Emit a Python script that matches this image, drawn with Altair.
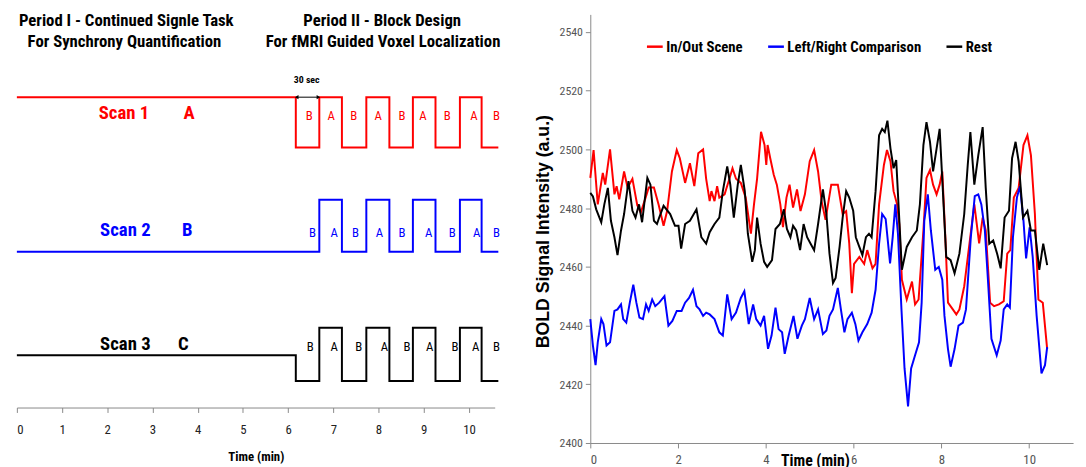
import altair as alt
import pandas as pd

FONT = "Liberation Sans Narrow, Arial Narrow, Roboto Condensed, Liberation Sans, sans-serif"
WIDE_FONT = "Liberation Sans, Arial, sans-serif"

# ---------------- Left panel: task design ----------------
edge_times = [0, 6.17, 6.69, 7.19, 7.73, 8.24, 8.76, 9.26, 9.80, 10.28, 10.65]
scan1_levels = [31.5, 26.4, 31.5, 26.4, 31.5, 26.4, 31.5, 26.4, 31.5, 26.4, 26.4]
scan2_levels = [15.8, 15.8, 21.1, 15.8, 21.1, 15.8, 21.1, 15.8, 21.1, 15.8, 15.8]
scan3_levels = [5.3, 2.7, 8.1, 2.7, 8.1, 2.7, 8.1, 2.7, 8.1, 2.7, 2.7]
scan_colors = ["#FF0000", "#0000FF", "#000000"]

block_text = ["B", "A", "B", "A", "B", "A", "B", "A", "B"]
scan1_text_t = [6.47, 6.95, 7.45, 7.99, 8.52, 8.98, 9.52, 10.11, 10.61]
scan2_text_t = [6.54, 7.02, 7.49, 8.02, 8.52, 9.11, 9.63, 10.17, 10.61]
scan3_text_t = [6.49, 7.02, 7.56, 8.13, 8.63, 9.13, 9.69, 10.15, 10.61]
block_text_levels = [29.6, 17.7, 6.1]

scan_names = ["Scan 1", "Scan 2", "Scan 3"]
scan_letters = ["A", "B", "C"]
scan_name_t = [2.37, 2.40, 2.40]
scan_letter_t = [3.81, 3.77, 3.68]
scan_name_levels = [29.9, 18.0, 6.4]

title_lines = ["Period I - Continued Signle Task", "For Synchrony Quantification",
               "Period II - Block Design", "For fMRI Guided Voxel Localization"]
title_t = [2.42, 2.38, 8.08, 8.10]
title_levels = [39.2, 37.1, 39.2, 37.1]

arrow_t = [6.19, 6.67]
arrow_level = 31.5
arrow_label = "30 sec"
arrow_label_t = 6.41
arrow_label_level = 33.2

left_ticks = list(range(0, 11))

# ---------------- Right panel: BOLD signal ----------------
series_names = ["In/Out Scene", "Left/Right Comparison", "Rest"]
series_colors = ["#FF0000", "#0000FF", "#000000"]

red_t = [0, 0.075, 0.17, 0.285, 0.34, 0.45, 0.55, 0.6, 0.66, 0.77, 0.85, 0.96, 1.07, 1.15, 1.26, 1.33,
         1.45, 1.56, 1.67, 1.75, 1.86, 1.97, 2.04, 2.16, 2.27, 2.37, 2.46, 2.57, 2.64, 2.72, 2.76, 2.83,
         2.89, 2.94, 3.06, 3.17, 3.24, 3.32, 3.43, 3.54, 3.66, 3.73, 3.80, 3.89, 3.97, 4.01, 4.04, 4.10,
         4.18, 4.25, 4.33, 4.39, 4.47, 4.54, 4.62, 4.71, 4.79, 4.89, 5.0, 5.1, 5.19, 5.27, 5.36, 5.49,
         5.64, 5.75, 5.83, 5.90, 5.96, 6.01, 6.13, 6.24, 6.31, 6.43, 6.50, 6.58, 6.69, 6.76, 6.84, 6.91,
         6.99, 7.04, 7.10, 7.21, 7.33, 7.40, 7.48, 7.59, 7.66, 7.74, 7.81, 7.89, 7.96, 8.02, 8.09, 8.15,
         8.26, 8.34, 8.41, 8.52, 8.64, 8.75, 8.86, 8.94, 9.01, 9.11, 9.20, 9.31, 9.42, 9.50, 9.57, 9.65,
         9.76, 9.87, 9.96, 10.04, 10.13, 10.21, 10.31, 10.41]
red_v = [2490.3, 2499.8, 2481.3, 2492, 2488, 2500, 2484.7, 2487.5, 2483, 2492.5, 2487, 2490, 2481, 2478.5,
         2483.6, 2487, 2487, 2481, 2474, 2479, 2492.5, 2499.8, 2497, 2488.6, 2495.3, 2487.5, 2498.7, 2500,
         2490, 2482.4, 2485.8, 2482.4, 2487.5, 2483.6, 2484.7, 2490, 2493.6, 2490, 2488.6, 2483.6, 2471.3,
         2481.3, 2490, 2506, 2501.5, 2494.7, 2501.5, 2497, 2491.4, 2488, 2481.3, 2473.5, 2483.6, 2488,
         2480.2, 2486.4, 2479, 2484.7, 2496, 2499.8, 2492.5, 2482.4, 2476, 2488, 2488, 2478, 2479, 2468,
         2451, 2461, 2463.4, 2461, 2465.7, 2459.5, 2461, 2481.3, 2494.7, 2499.8, 2495.9, 2485.8, 2481.3,
         2474.6, 2455.6, 2448.9, 2455, 2447.2, 2448.9, 2472.4, 2490.3, 2493, 2488, 2484.7, 2488, 2492.5,
         2470, 2447.8, 2445.5, 2443.8, 2445.5, 2453.4, 2468, 2481.3, 2468, 2476.8, 2472.4, 2447.8, 2446.6,
         2447.2, 2448.3, 2464.5, 2465.7, 2483.6, 2486.9, 2501.5, 2504.8, 2498, 2478, 2448.9, 2447.8, 2432]

blue_t = [0, 0.06, 0.12, 0.17, 0.25, 0.30, 0.37, 0.45, 0.55, 0.62, 0.70, 0.75, 0.82, 0.90, 0.98, 1.05,
          1.12, 1.20, 1.27, 1.33, 1.41, 1.48, 1.57, 1.69, 1.78, 1.87, 1.97, 2.08, 2.16, 2.25, 2.34, 2.42,
          2.49, 2.57, 2.64, 2.72, 2.83, 2.94, 3.02, 3.12, 3.22, 3.32, 3.43, 3.51, 3.61, 3.71, 3.78, 3.88,
          3.96, 4.05, 4.13, 4.22, 4.29, 4.37, 4.43, 4.52, 4.63, 4.72, 4.82, 4.89, 5.0, 5.10, 5.19, 5.30,
          5.38, 5.45, 5.53, 5.64, 5.71, 5.79, 5.86, 5.96, 6.04, 6.11, 6.20, 6.31, 6.41, 6.50, 6.58, 6.65,
          6.73, 6.83, 6.89, 6.95, 7.01, 7.09, 7.16, 7.24, 7.31, 7.40, 7.49, 7.55, 7.61, 7.69, 7.76, 7.86,
          7.94, 8.02, 8.07, 8.15, 8.21, 8.30, 8.39, 8.49, 8.56, 8.67, 8.76, 8.84, 8.91, 8.99, 9.06, 9.14,
          9.26, 9.35, 9.42, 9.50, 9.56, 9.63, 9.72, 9.79, 9.87, 9.93, 10.01, 10.08, 10.17, 10.28, 10.36,
          10.41]
blue_v = [2442.2, 2433.2, 2426.5, 2434.3, 2442.2, 2440.5, 2433.2, 2434.3, 2445, 2445.5, 2447.2, 2442.2,
          2441, 2447.8, 2453.9, 2447.8, 2442.7, 2442.2, 2447.2, 2445, 2448.9, 2446.6, 2447.8, 2450, 2440,
          2441.6, 2445, 2445, 2447.8, 2449.4, 2452.2, 2446.6, 2445.5, 2443.3, 2444.4, 2443.8, 2442.2,
          2437.7, 2436.6, 2450.6, 2442.2, 2444.4, 2449.4, 2451.7, 2440.5, 2447.2, 2442.2, 2440, 2443.3,
          2432.1, 2436.6, 2446.1, 2438.8, 2437.7, 2430.4, 2436.6, 2443.3, 2435.5, 2440, 2442.2, 2449.4,
          2442.2, 2445.5, 2437.1, 2438.3, 2443.3, 2445.5, 2452.8, 2445.5, 2437.7, 2442.2, 2444.4, 2440.5,
          2434.9, 2437.7, 2440.5, 2444.4, 2452.2, 2467.9, 2478, 2476.3, 2461.2, 2470.1, 2481.3, 2471.3,
          2445.5, 2425.4, 2412.5, 2425.4, 2429.9, 2434.3, 2447.8, 2475.7, 2484.7, 2472.4, 2459, 2460,
          2455.6, 2443.3, 2432, 2426, 2432, 2440, 2441, 2445.5, 2470.1, 2484.1, 2484.7, 2481.3, 2472.4,
          2455.6, 2435.5, 2429.9, 2434.9, 2445.5, 2447.2, 2446.1, 2470.1, 2483.6, 2487.5, 2475.7, 2462.9,
          2473.5, 2463.4, 2443.3, 2423.7, 2426.5, 2432.7]

rest_t = [0, 0.06, 0.135, 0.25, 0.32, 0.40, 0.47, 0.55, 0.62, 0.70, 0.77, 0.87, 0.96, 1.03, 1.11, 1.18,
          1.30, 1.37, 1.45, 1.52, 1.57, 1.67, 1.82, 1.93, 2.01, 2.07, 2.16, 2.27, 2.42, 2.53, 2.64, 2.72,
          2.83, 2.94, 3.02, 3.12, 3.19, 3.27, 3.36, 3.43, 3.52, 3.59, 3.69, 3.75, 3.80, 3.88, 3.96, 4.03,
          4.14, 4.22, 4.32, 4.41, 4.48, 4.56, 4.62, 4.69, 4.78, 4.86, 4.94, 5.02, 5.10, 5.19, 5.30, 5.38,
          5.45, 5.53, 5.59, 5.68, 5.75, 5.83, 5.90, 5.99, 6.05, 6.13, 6.20, 6.28, 6.35, 6.41, 6.50, 6.58,
          6.65, 6.71, 6.77, 6.84, 6.91, 6.97, 7.03, 7.10, 7.21, 7.33, 7.44, 7.51, 7.59, 7.66, 7.74, 7.81,
          7.89, 7.96, 8.03, 8.11, 8.21, 8.30, 8.41, 8.52, 8.60, 8.66, 8.75, 8.84, 8.94, 9.01, 9.09, 9.18,
          9.27, 9.35, 9.44, 9.54, 9.61, 9.69, 9.76, 9.86, 9.96, 10.04, 10.13, 10.23, 10.32, 10.41]
rest_v = [2485.2, 2484, 2479.6, 2475.2, 2481.3, 2486.9, 2475.7, 2470.1, 2464, 2472.4, 2478, 2489.2, 2479.1,
          2476.8, 2481.3, 2475.2, 2490.3, 2488, 2475.7, 2474.6, 2476.8, 2480.8, 2478, 2474, 2474, 2466.2,
          2474.6, 2475.7, 2479.6, 2470.1, 2467.9, 2471.8, 2474.6, 2476.8, 2485.8, 2494.2, 2488, 2476.8,
          2488, 2494.7, 2485.8, 2471.3, 2461.7, 2465.7, 2476.8, 2467.9, 2461.7, 2460, 2462.3, 2472.9,
          2474.6, 2479.6, 2472.9, 2470.1, 2474, 2472.4, 2465.7, 2474.6, 2470.1, 2467.9, 2465.7, 2474.6,
          2486.4, 2478, 2464.5, 2454.5, 2456.2, 2466.8, 2476.8, 2485.8, 2483.6, 2479.1, 2470.1, 2466.8,
          2464, 2470.1, 2471.3, 2470.1, 2485.8, 2504.8, 2507, 2505.9, 2509.8, 2500.3, 2493.6, 2496.4,
          2479.1, 2459, 2466.8, 2470.1, 2472.4, 2481.3, 2501.5, 2509.3, 2502.6, 2492.5, 2500.3, 2507,
          2486.9, 2463.4, 2462.3, 2457.8, 2464.5, 2478, 2494.7, 2505.9, 2488, 2498, 2507.6, 2486.9, 2467.9,
          2469, 2464.5, 2459.5, 2476.8, 2479.1, 2497, 2502.6, 2495.9, 2476.8, 2479.1, 2472.4, 2472.4, 2459,
          2467.9, 2460.6]

right_y_ticks = [2400, 2420, 2440, 2460, 2480, 2500, 2520, 2540]
right_x_ticks = [0, 2, 4, 6, 8, 10]

# ---------------- build tables ----------------
steps = []
for name, levels, col in zip(scan_names, [scan1_levels, scan2_levels, scan3_levels], scan_colors):
    for t, lv in zip(edge_times, levels):
        steps.append({"scan": name, "t": t, "lv": lv, "color": col})
steps_df = pd.DataFrame(steps)

blocks = []
for ts, lv, col in zip([scan1_text_t, scan2_text_t, scan3_text_t], block_text_levels, scan_colors):
    for t, s in zip(ts, block_text):
        blocks.append({"t": t, "lv": lv, "text": s, "color": col})
blocks_df = pd.DataFrame(blocks)

names = []
for i in range(3):
    names.append({"t": scan_name_t[i], "lv": scan_name_levels[i], "text": scan_names[i], "color": scan_colors[i]})
    names.append({"t": scan_letter_t[i], "lv": scan_name_levels[i], "text": scan_letters[i], "color": scan_colors[i]})
names_df = pd.DataFrame(names)

titles_df = pd.DataFrame({"t": title_t, "lv": title_levels, "text": title_lines})
arrow_df = pd.DataFrame({"t": [arrow_t[0]], "t2": [arrow_t[1]], "lv": [arrow_level]})
arrow_heads_df = pd.DataFrame({"t": arrow_t, "lv": [arrow_level] * 2,
                               "shape": ["triangle-left", "triangle-right"]})
arrow_text_df = pd.DataFrame({"t": [arrow_label_t], "lv": [arrow_label_level], "text": [arrow_label]})

lx = alt.X("t:Q", scale=alt.Scale(domain=[0, 10.57], nice=False),
           axis=alt.Axis(values=left_ticks, title="Time (min)", grid=False,
                         labelFont=FONT, labelFontSize=13, labelColor="#222", labelPadding=11,
                         tickSize=5, tickColor="#888", domainColor="#888",
                         titleFont=FONT, titleFontSize=13, titleFontWeight="bold", titlePadding=15))
ly = alt.Y("lv:Q", scale=alt.Scale(domain=[0, 39.9], nice=False, zero=False), axis=None)
noc = alt.Color("color:N", scale=None)

steps_layer = alt.Chart(steps_df).mark_line(interpolate="step-after", strokeWidth=2).encode(
    x=lx, y=ly, color=noc, detail="scan:N")
blocks_layer = alt.Chart(blocks_df).mark_text(font=FONT, fontSize=13, baseline="middle").encode(
    x="t:Q", y="lv:Q", text="text:N", color=noc)
names_layer = alt.Chart(names_df).mark_text(font=FONT, fontSize=19, fontWeight="bold", baseline="middle").encode(
    x="t:Q", y="lv:Q", text="text:N", color=noc)
titles_layer = alt.Chart(titles_df).mark_text(font=FONT, fontSize=17, fontWeight="bold", baseline="middle",
                                              color="#000").encode(x="t:Q", y="lv:Q", text="text:N")
arrow_layer = alt.Chart(arrow_df).mark_rule(color="#000", strokeWidth=1).encode(
    x="t:Q", x2="t2:Q", y="lv:Q")
heads_layer = alt.Chart(arrow_heads_df).mark_point(filled=True, size=18, color="#000", opacity=1).encode(
    x="t:Q", y="lv:Q", shape=alt.Shape("shape:N", scale=None))
arrow_text_layer = alt.Chart(arrow_text_df).mark_text(font=FONT, fontSize=10, fontWeight="bold",
                                                      baseline="middle", color="#000").encode(
    x="t:Q", y="lv:Q", text="text:N")

left = alt.layer(steps_layer, blocks_layer, names_layer, titles_layer, arrow_layer, heads_layer,
                 arrow_text_layer).properties(width=485, height=399)

rows = []
for nm, ts, vs in zip(series_names, [red_t, blue_t, rest_t], [red_v, blue_v, rest_v]):
    for t, v in zip(ts, vs):
        rows.append({"series": nm, "t": t, "v": v})
bold_df = pd.DataFrame(rows)

rx = alt.X("t:Q", scale=alt.Scale(domain=[0, 11], nice=False),
           axis=alt.Axis(values=right_x_ticks, title="Time (min)", grid=False,
                         labelFont=FONT, labelFontSize=13, labelColor="#555", labelPadding=6,
                         tickSize=5, tickColor="#888", domainColor="#888",
                         titleFont=FONT, titleFontSize=16, titleFontWeight="bold",
                         titleX=228, titleY=18, titleBaseline="middle", titleAlign="center"))
ry = alt.Y("v:Q", scale=alt.Scale(domain=[2400, 2546], nice=False, zero=False),
           axis=alt.Axis(values=right_y_ticks, format="d", title="BOLD Signal Intensity (a.u.)", grid=False,
                         labelFont=FONT, labelFontSize=12, labelColor="#555", labelPadding=3,
                         tickSize=5, tickColor="#888", domainColor="#888",
                         titleFont=WIDE_FONT, titleFontSize=18, titleFontWeight="bold",
                         titleX=-47, titleY=220, titleAngle=-90, titleAlign="center",
                         titleBaseline="middle"))
rcolor = alt.Color("series:N", scale=alt.Scale(domain=series_names, range=series_colors),
                   legend=alt.Legend(orient="none", legendX=638, legendY=23, direction="horizontal",
                                     title=None, symbolType="stroke", symbolSize=256,
                                     symbolStrokeWidth=2.5, labelFont=FONT, labelFontSize=15,
                                     labelFontWeight="bold", labelColor="#000", labelOffset=2,
                                     columnPadding=20, labelLimit=300))

line_layers = [
    alt.Chart(bold_df).transform_filter(alt.datum.series == nm).mark_line(strokeWidth=2).encode(
        x=rx, y=ry, color=rcolor)
    for nm in series_names
]
right = alt.layer(*line_layers).properties(width=490, height=435)

chart = alt.hconcat(left, right, spacing=33).properties(
    padding={"left": 5, "top": 0, "right": 5, "bottom": 5}
).configure_view(stroke=None)

chart.save("out.html", embed_options={"renderer": "svg", "actions": False})
